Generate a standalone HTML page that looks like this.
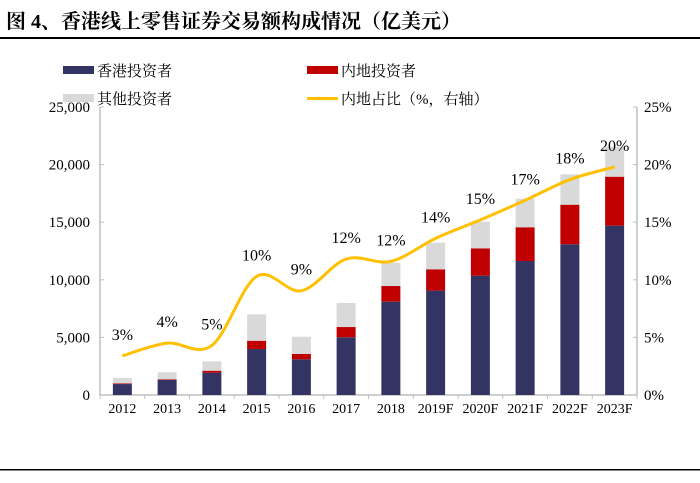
<!DOCTYPE html>
<html><head><meta charset="utf-8"><style>
body{margin:0;background:#fff;width:700px;height:478px;overflow:hidden}
svg text{font-family:"Liberation Serif","Noto Serif CJK SC",serif}
</style></head><body>
<svg id="chart" width="700" height="478" viewBox="0 0 700 478" xmlns="http://www.w3.org/2000/svg">
<text x="6" y="28" font-size="20" font-weight="bold" fill="#000">图 4、香港线上零售证券交易额构成情况（亿美元）</text>
<rect x="0" y="37" width="700" height="2" fill="#000"/>
<rect x="0" y="469" width="700" height="1.5" fill="#000"/>
<g font-size="15">
<rect x="63" y="66" width="31" height="8" fill="#343464"/>
<text x="97" y="76">香港投资者</text>
<rect x="307" y="66" width="31" height="8" fill="#c00000"/>
<text x="341" y="76">内地投资者</text>
<rect x="63" y="94" width="31" height="8" fill="#d9d9d9"/>
<text x="97" y="104">其他投资者</text>
<rect x="307" y="97" width="31" height="3" fill="#ffc000"/>
<text x="341" y="104">内地占比（%，右轴）</text>
</g>
<g id="plot"></g>
</svg>
<script>
const categories=["2012","2013","2014","2015","2016","2017","2018","2019F","2020F","2021F","2022F","2023F"];
const hkValues=[950,1300,1940,3990,3100,5010,8100,9060,10360,11630,13080,14700];
const mainlandValues=[60,60,170,720,460,890,1360,1850,2370,2930,3440,4250];
const otherValues=[460,610,810,2290,1500,2090,2020,2310,2310,2480,2640,2600];
const shareValues=[3.4,4.5,4.3,10.3,9.05,11.8,11.6,13.6,15.2,16.9,18.7,19.8];
const shareLabels=["3%","4%","5%","10%","9%","12%","12%","14%","15%","17%","18%","20%"];
const leftTicks=[0,5000,10000,15000,20000,25000];
const leftTickLabels=["0","5,000","10,000","15,000","20,000","25,000"];
const rightTicks=[0,5,10,15,20,25];
const rightTickLabels=["0%","5%","10%","15%","20%","25%"];

const NS="http://www.w3.org/2000/svg";
const plot=document.getElementById('plot');
const X0=100,X1=637,Y0=395,Y1=107;
const band=(X1-X0)/categories.length;
const xc=i=>X0+band*(i+0.5);
const yL=v=>Y0-(v/25000)*(Y0-Y1);
const yR=v=>Y0-(v/25)*(Y0-Y1);
function mk(tag,attrs){const e=document.createElementNS(NS,tag);for(const k in attrs)e.setAttribute(k,attrs[k]);plot.appendChild(e);return e;}

// axes
let a=mk('line',{x1:X0,y1:Y1,x2:X0,y2:Y0,stroke:'#bfbfbf','stroke-width':1.5});


a=mk('line',{x1:X1,y1:Y1,x2:X1,y2:Y0,stroke:'#bfbfbf','stroke-width':1.5});


a=mk('line',{x1:X0,y1:Y0,x2:X1,y2:Y0,stroke:'#bfbfbf','stroke-width':1.5});



leftTicks.forEach((v,i)=>{
  const t=mk('line',{x1:X0,y1:yL(v),x2:X0+4,y2:yL(v),stroke:'#bfbfbf'});
  
  
  const l=mk('text',{x:90,y:yL(v)+5,'text-anchor':'end','font-size':15,fill:'#000'});
  l.textContent=leftTickLabels[i];
  
  
});
rightTicks.forEach((v,i)=>{
  const t=mk('line',{x1:X1-4,y1:yR(v),x2:X1,y2:yR(v),stroke:'#bfbfbf'});
  
  
  const l=mk('text',{x:644,y:yR(v)+5,'font-size':15,fill:'#000'});
  l.textContent=rightTickLabels[i];
  
  
});
for(let i=0;i<=categories.length;i++){
  const t=mk('line',{x1:X0+band*i,y1:Y0,x2:X0+band*i,y2:Y0+4,stroke:'#bfbfbf'});
  
  
}
const bw=19;
categories.forEach((c,i)=>{
  const x=xc(i)-bw/2;
  const h=hkValues[i],m=mainlandValues[i],o=otherValues[i];
  let r=mk('rect',{x:x,y:yL(h),width:bw,height:Y0-yL(h),fill:'#343464'});
  
  
  r=mk('rect',{x:x,y:yL(h+m),width:bw,height:yL(h)-yL(h+m),fill:'#c00000'});
  
  
  r=mk('rect',{x:x,y:yL(h+m+o),width:bw,height:yL(h+m)-yL(h+m+o),fill:'#d9d9d9'});
  
  
  const l=mk('text',{x:xc(i),y:413,'text-anchor':'middle','font-size':14,fill:'#000'});
  l.textContent=c;
  
  
});
// smooth line
const pts=shareValues.map((v,i)=>[xc(i),yR(v)]);
let d='M'+pts[0][0]+','+pts[0][1];
for(let i=0;i<pts.length-1;i++){
  const p0=pts[Math.max(0,i-1)],p1=pts[i],p2=pts[i+1],p3=pts[Math.min(pts.length-1,i+2)];
  const c1=[p1[0]+(p2[0]-p0[0])/6,p1[1]+(p2[1]-p0[1])/6];
  const c2=[p2[0]-(p3[0]-p1[0])/6,p2[1]-(p3[1]-p1[1])/6];
  d+=' C'+c1[0]+','+c1[1]+' '+c2[0]+','+c2[1]+' '+p2[0]+','+p2[1];
}
const ln=mk('path',{d:d,fill:'none',stroke:'#ffc000','stroke-width':3});


shareValues.forEach((v,i)=>{
  const l=mk('text',{x:xc(i),y:yR(v)-16,'text-anchor':'middle','font-size':16,fill:'#000'});
  l.textContent=shareLabels[i];
  
  
});
</script>
</body></html>
